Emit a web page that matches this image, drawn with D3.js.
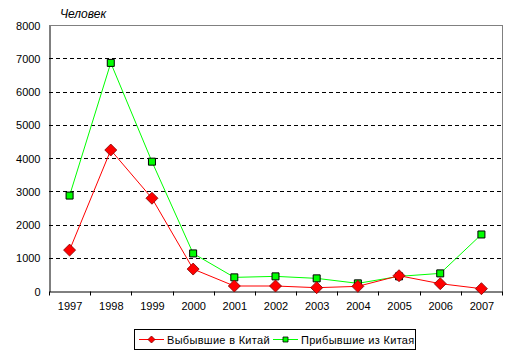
<!DOCTYPE html>
<html>
<head>
<meta charset="utf-8">
<script src="https://cdn.jsdelivr.net/npm/d3@7"></script>
<style>
  body { margin: 0; background: #fff; }
  text { font-family: "Liberation Sans", Arial, sans-serif; }
</style>
</head>
<body>
<svg id="chart" width="517" height="359"></svg>
<script>
const years = ["1997", "1998", "1999", "2000", "2001", "2002", "2003", "2004", "2005", "2006", "2007"];
const leftToChina = [1230, 4240, 2790, 660, 150, 150, 100, 140, 460, 220, 70];
const arrivedFromChina = [2870, 6860, 3890, 1130, 410, 440, 380, 230, 440, 530, 1700];
const yTicks = [0, 1000, 2000, 3000, 4000, 5000, 6000, 7000, 8000];
const seriesNames = ["Выбывшие в Китай", "Прибывшие из Китая"];

const svg = d3.select("#chart");
const plotLeft = 49, plotRight = 502, plotTop = 25, plotBottom = 291;

const x = d3.scaleBand().domain(years).range([plotLeft, plotRight]);
const y = d3.scaleLinear().domain([0, 8000]).range([plotBottom, plotTop]);

// grid lines
svg.append("g")
  .selectAll("line")
  .data(yTicks.filter(d => d > 0))
  .join("line")
  .attr("x1", plotLeft).attr("x2", plotRight)
  .attr("y1", d => Math.round(y(d)) + 0.5).attr("y2", d => Math.round(y(d)) + 0.5)
  .attr("stroke", d => d === 8000 ? "#808080" : "#000")
  .attr("stroke-dasharray", d => d === 8000 ? null : "4,3");

// right border
svg.append("line")
  .attr("x1", plotRight + 0.5).attr("x2", plotRight + 0.5)
  .attr("y1", plotTop).attr("y2", plotBottom)
  .attr("stroke", "#808080");

// y axis
const yAxis = svg.append("g")
  .attr("transform", `translate(${plotLeft + 0.5},0.5)`)
  .call(d3.axisLeft(y).tickValues(yTicks).tickSize(0).tickPadding(9).tickFormat(d3.format("d")));
yAxis.select(".domain").attr("stroke", "#000");
yAxis.selectAll("text").attr("font-size", 11).attr("fill", "#000")
  .style("font-family", "'Liberation Sans', Arial, sans-serif");

// x axis
const xAxis = svg.append("g")
  .attr("transform", `translate(0.5,${plotBottom + 0.5})`)
  .call(d3.axisBottom(x).tickSize(0).tickPadding(11));
xAxis.select(".domain").attr("stroke", "#000");
xAxis.selectAll("text").attr("font-size", 11).attr("fill", "#000")
  .style("font-family", "'Liberation Sans', Arial, sans-serif");
xAxis.append("g")
  .selectAll("line")
  .data(years.concat(["end"]))
  .join("line")
  .attr("x1", (d, i) => Math.round(plotLeft + i * x.bandwidth()))
  .attr("x2", (d, i) => Math.round(plotLeft + i * x.bandwidth()))
  .attr("y1", 0).attr("y2", 4)
  .attr("stroke", "#000");

// y unit label
svg.append("text")
  .attr("x", 60).attr("y", 18)
  .attr("font-size", 12).attr("font-style", "italic")
  .text("Человек");

const cx = d => x(d) + x.bandwidth() / 2;
const line = d3.line().x(d => cx(d.year)).y(d => y(d.value));

function drawSeries(values, color, shape) {
  const pts = years.map((year, i) => ({ year, value: values[i] }));
  svg.append("path")
    .datum(pts)
    .attr("fill", "none")
    .attr("stroke", color)
    .attr("stroke-width", 1)
    .attr("d", line);
  svg.append("g")
    .selectAll("path")
    .data(pts)
    .join("path")
    .attr("transform", d => `translate(${cx(d.year)},${y(d.value)})`)
    .attr("d", shape)
    .attr("fill", color)
    .attr("stroke", color === "#ff0000" ? "#800000" : "#000")
    .attr("stroke-width", color === "#ff0000" ? 0.8 : 1);
}

const diamond = "M0,-6L6,0L0,6L-6,0Z";
const square = "M-3.5,-3.5H3.5V3.5H-3.5Z";
drawSeries(arrivedFromChina, "#00ff00", square);
drawSeries(leftToChina, "#ff0000", diamond);

// legend
const legend = svg.append("g");
legend.append("rect")
  .attr("x", 134.5).attr("y", 329.5).attr("width", 281).attr("height", 20)
  .attr("fill", "#fff").attr("stroke", "#000");

const legendItems = [
  { name: seriesNames[0], color: "#ff0000", shape: "M0,-3.5L3.5,0L0,3.5L-3.5,0Z", x0: 139 },
  { name: seriesNames[1], color: "#00ff00", shape: "M-2.5,-2.5H2.5V2.5H-2.5Z", x0: 273 }
];
legendItems.forEach(item => {
  const g = legend.append("g").attr("transform", `translate(${item.x0},339.5)`);
  g.append("line").attr("x1", 0).attr("x2", 25).attr("stroke", item.color);
  g.append("path").attr("transform", "translate(12.5,0)").attr("d", item.shape)
    .attr("fill", item.color)
    .attr("stroke", item.color === "#ff0000" ? "#800000" : "#000")
    .attr("stroke-width", 0.8);
  g.append("text").attr("x", 28).attr("y", 4).attr("font-size", 11)
    .attr("letter-spacing", 0.3).text(item.name);
});
</script>
</body>
</html>
